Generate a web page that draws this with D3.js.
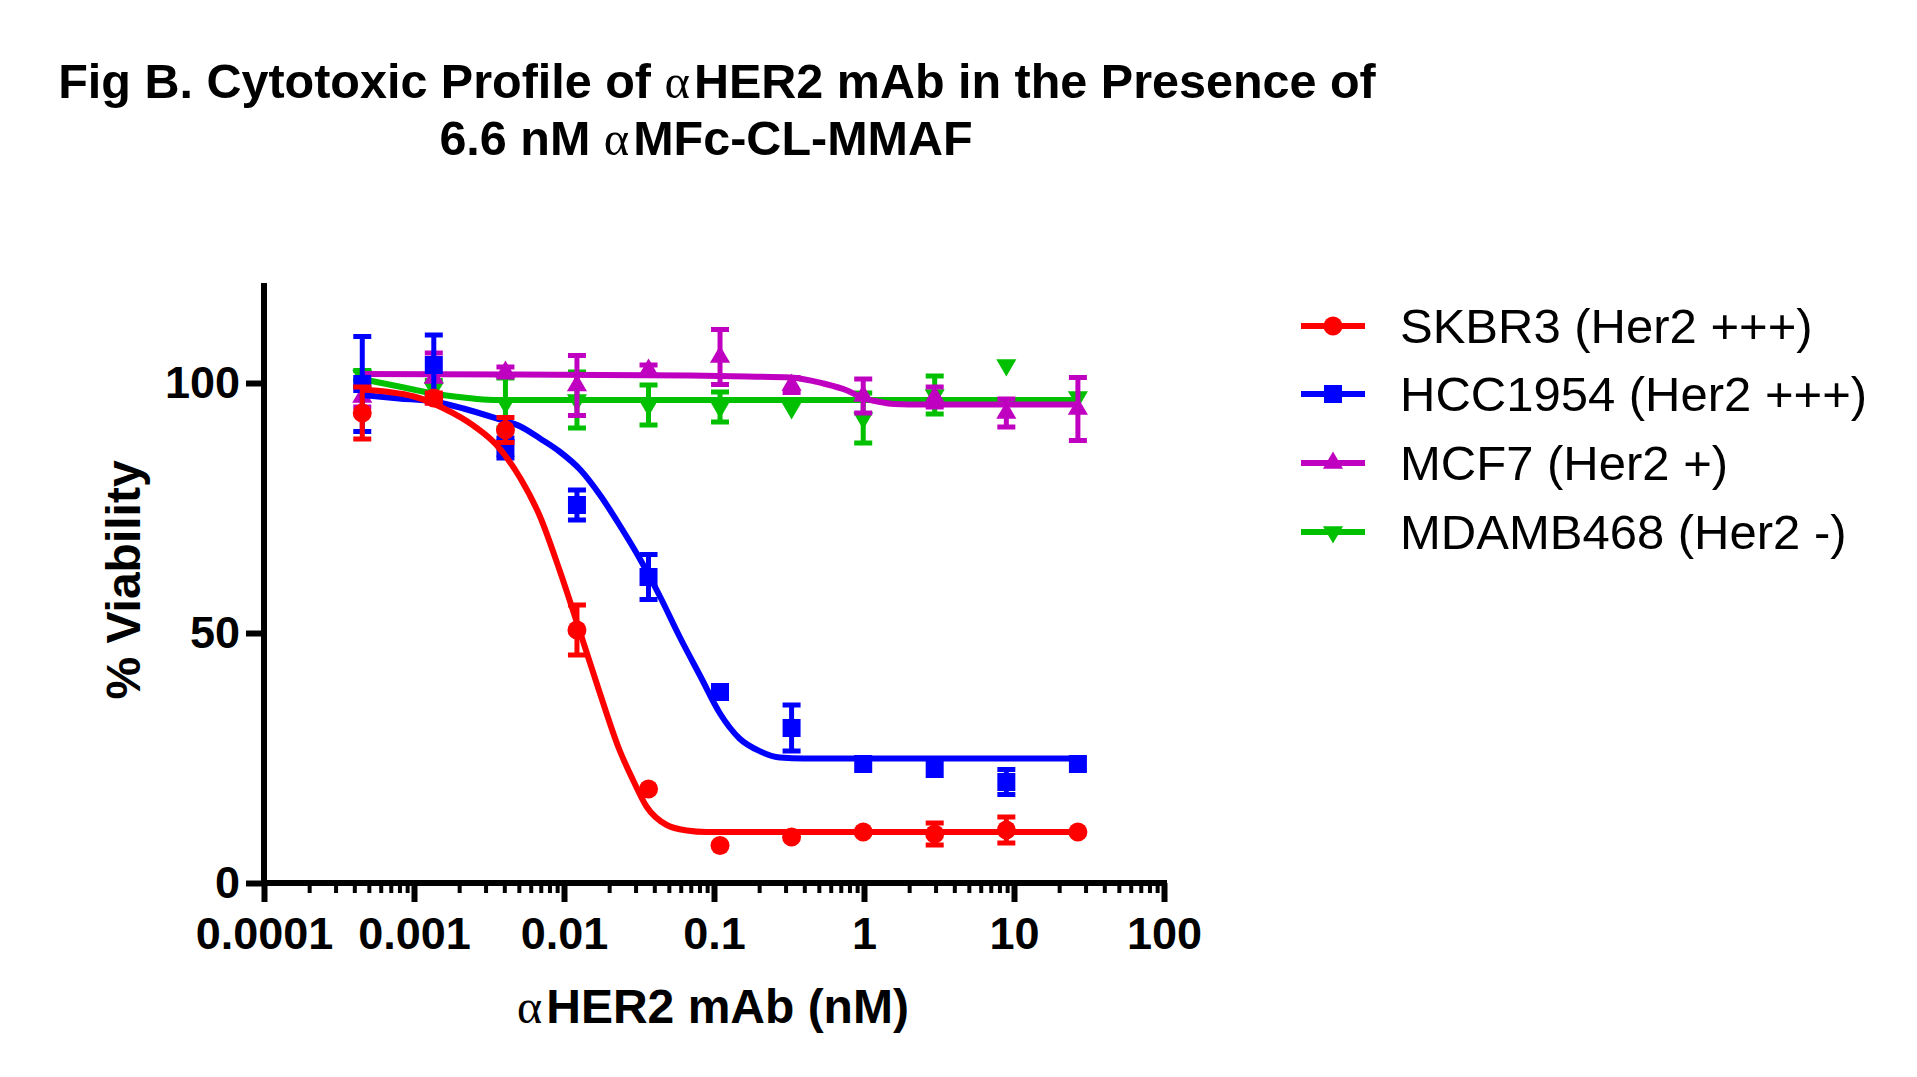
<!DOCTYPE html>
<html>
<head>
<meta charset="utf-8">
<script src="https://cdn.jsdelivr.net/npm/d3@7"></script>
<style>
  body { margin: 0; background: #fff; }
  svg text { font-family: "Liberation Sans", Arial, sans-serif; }
</style>
</head>
<body>
<div id="chart"></div>
<script>
// concentrations (nM), 3-fold dilutions
const conc = [0.000452, 0.001355, 0.00407, 0.0122, 0.0366, 0.1097, 0.329, 0.988, 2.96, 8.89, 26.67];

const seriesNames = ["SKBR3 (Her2 +++)", "HCC1954 (Her2 +++)", "MCF7 (Her2 +)", "MDAMB468 (Her2 -)"];

const skbr3Mean = [94.0, 97.0, 90.6, 50.6, 18.8, 7.5, 9.2, 10.2, 9.8, 10.6, 10.2];
const skbr3Err  = [5.2, 1.0, 2.5, 5.0, 0, 0, 0, 0, 2.2, 2.6, 0];
const hccMean   = [99.8, 103.6, 87.0, 75.6, 61.2, 38.2, 31.0, 23.8, 22.8, 20.2, 23.8];
const hccErr    = [9.5, 6.0, 2.0, 3.0, 4.5, 1.0, 4.6, 0, 0, 2.5, 0];
const mcf7Mean  = [97.2, 101.0, 102.2, 99.5, 102.6, 105.2, 99.6, 97.4, 97.2, 94.0, 94.8];
const mcf7Err   = [2.0, 5.0, 1.0, 6.0, 1.0, 5.5, 1.5, 3.4, 2.0, 2.8, 6.3];
const mdaMean   = [101.5, 99.0, 96.0, 96.6, 95.6, 95.2, 95.0, 93.0, 97.6, 103.6, 97.2];
const mdaErr    = [1.0, 1.5, 5.0, 5.6, 4.0, 3.0, 0, 5.0, 3.8, 0, 0];

// fitted curves (log10 nM, % viability)
const skbr3FitX = [-3.35, -3.0, -2.8, -2.6, -2.45, -2.29, -2.16, -2.03, -1.89, -1.76, -1.63, -1.54, -1.45, -1.315, -1.18, -1.05, 1.43];
const skbr3FitY = [98.7, 97.3, 94.9, 91.4, 87.6, 80.9, 73.3, 62.6, 49.9, 37.9, 26.6, 20.6, 15.3, 11.6, 10.5, 10.2, 10.2];
const hccFitX = [-3.35, -3.1, -2.87, -2.67, -2.45, -2.29, -2.16, -2.03, -1.89, -1.76, -1.63, -1.49, -1.36, -1.23, -1.09, -0.96, -0.83, -0.69, -0.56, -0.4, 1.43];
const hccFitY = [97.6, 96.9, 96.3, 94.9, 92.9, 91.3, 88.9, 86.3, 82.6, 77.6, 71.6, 64.6, 57.3, 49.3, 41.3, 33.9, 28.9, 26.3, 25.1, 24.9, 24.9];
const mcf7FitX = [-3.35, -2.3, -1.16, -0.78, -0.49, -0.27, -0.12, 0.0, 0.09, 0.2, 0.4, 1.43];
const mcf7FitY = [101.8, 101.7, 101.5, 101.3, 101.1, 99.9, 98.6, 96.9, 96.3, 95.8, 95.7, 95.7];
const mdaFitX = [-3.35, -3.1, -2.87, -2.67, -2.54, -2.4, 1.43];
const mdaFitY = [100.8, 99.3, 97.9, 97.1, 96.7, 96.6, 96.6];

const xTickValues = [0.0001, 0.001, 0.01, 0.1, 1, 10, 100];
const xTickLabels = ["0.0001", "0.001", "0.01", "0.1", "1", "10", "100"];
const yTickValues = [0, 50, 100];

const red = "#FF0000";
const blue = "#0000FF";
const magenta = "#C000C0";
const green = "#00C000";

const width = 1917;
const height = 1077;

const svg = d3.select("#chart").append("svg")
    .attr("width", width)
    .attr("height", height);

const x = d3.scaleLog().domain([0.0001, 100]).range([264, 1164]);
const y = d3.scaleLinear().domain([0, 120]).range([883, 283]);

// title
const title = svg.append("text")
    .attr("text-anchor", "middle")
    .attr("font-weight", "bold")
    .attr("font-size", 48.5);
title.append("tspan").attr("x", 717).attr("y", 98).text("Fig B. Cytotoxic Profile of ");
title.append("tspan").attr("font-weight", "normal").attr("font-family", "'Liberation Serif', serif").text("α");
title.append("tspan").attr("dx", 4).text("HER2 mAb in the Presence of");
title.append("tspan").attr("x", 706).attr("y", 155).text("6.6 nM ");
title.append("tspan").attr("font-weight", "normal").attr("font-family", "'Liberation Serif', serif").text("α");
title.append("tspan").attr("dx", 4).text("MFc-CL-MMAF");

// axes
const minorTicks = [];
for (let e = -4; e < 2; e++) {
    for (let k = 2; k <= 9; k++) minorTicks.push(k * Math.pow(10, e));
}

svg.append("g")
    .attr("transform", "translate(0,883)")
    .call(d3.axisBottom(x).tickValues(minorTicks).tickSize(10).tickSizeOuter(0).tickFormat(""))
    .call(g => g.select(".domain").remove())
    .call(g => g.selectAll("line").attr("stroke-width", 4));

const xAxis = svg.append("g")
    .attr("transform", "translate(0,883)")
    .call(d3.axisBottom(x)
        .tickValues(xTickValues)
        .tickSize(19)
        .tickSizeOuter(0)
        .tickPadding(15)
        .tickFormat((d, i) => xTickLabels[i]));
xAxis.select(".domain").attr("stroke-width", 6).attr("d", "M261,0H1167");
xAxis.selectAll("line").attr("stroke-width", 6);
xAxis.selectAll("text")
    .attr("font-size", 45)
    .attr("font-weight", "bold")
    .attr("fill", "#000");

const yAxis = svg.append("g")
    .attr("transform", "translate(264,0)")
    .call(d3.axisLeft(y)
        .tickValues(yTickValues)
        .tickSize(18)
        .tickSizeOuter(0)
        .tickPadding(6));
yAxis.select(".domain").attr("stroke-width", 6).attr("d", "M0,283V886");
yAxis.selectAll("line").attr("stroke-width", 6);
yAxis.selectAll("text")
    .attr("font-size", 45)
    .attr("font-weight", "bold")
    .attr("fill", "#000");

// axis titles
const xTitle = svg.append("text")
    .attr("x", 713)
    .attr("y", 1023)
    .attr("text-anchor", "middle")
    .attr("font-size", 48)
    .attr("font-weight", "bold");
xTitle.append("tspan").attr("font-weight", "normal").attr("font-family", "'Liberation Serif', serif").text("α");
xTitle.append("tspan").attr("dx", 4).text("HER2 mAb (nM)");

svg.append("text")
    .attr("transform", "translate(140,580) rotate(-90)")
    .attr("text-anchor", "middle")
    .attr("font-size", 48)
    .attr("font-weight", "bold")
    .text("% Viability");

// markers
function markerPath(shape) {
    if (shape === "circle") return d3.symbol().type(d3.symbolCircle).size(Math.PI * 9.5 * 9.5)();
    if (shape === "square") return d3.symbol().type(d3.symbolSquare).size(18 * 18)();
    return d3.symbol().type(d3.symbolTriangle).size(175)();
}

function markerTransform(shape, px, py) {
    if (shape === "down") return `translate(${px},${py}) rotate(180)`;
    return `translate(${px},${py})`;
}

const series = [
    { name: seriesNames[0], color: red, shape: "circle", mean: skbr3Mean, err: skbr3Err, fx: skbr3FitX, fy: skbr3FitY },
    { name: seriesNames[1], color: blue, shape: "square", mean: hccMean, err: hccErr, fx: hccFitX, fy: hccFitY },
    { name: seriesNames[2], color: magenta, shape: "up", mean: mcf7Mean, err: mcf7Err, fx: mcf7FitX, fy: mcf7FitY },
    { name: seriesNames[3], color: green, shape: "down", mean: mdaMean, err: mdaErr, fx: mdaFitX, fy: mdaFitY }
];

const line = d3.line()
    .x(d => x(Math.pow(10, d[0])))
    .y(d => y(d[1]))
    .curve(d3.curveMonotoneX);

// draw last series first so SKBR3 ends up on top
series.slice().reverse().forEach(s => {
    const g = svg.append("g");
    const fit = s.fx.map((v, i) => [v, s.fy[i]]);

    g.append("path")
        .attr("d", line(fit))
        .attr("fill", "none")
        .attr("stroke", s.color)
        .attr("stroke-width", 6);

    const pts = conc.map((c, i) => ({ c: c, m: s.mean[i], e: s.err[i] }));
    const withErr = pts.filter(d => d.e > 0);

    g.selectAll(".bar")
        .data(withErr)
        .enter()
        .append("line")
        .attr("x1", d => x(d.c))
        .attr("x2", d => x(d.c))
        .attr("y1", d => y(d.m - d.e))
        .attr("y2", d => y(d.m + d.e))
        .attr("stroke", s.color)
        .attr("stroke-width", 5);

    [-1, 1].forEach(sign => {
        g.selectAll(".cap" + sign)
            .data(withErr)
            .enter()
            .append("line")
            .attr("x1", d => x(d.c) - 9)
            .attr("x2", d => x(d.c) + 9)
            .attr("y1", d => y(d.m + sign * d.e))
            .attr("y2", d => y(d.m + sign * d.e))
            .attr("stroke", s.color)
            .attr("stroke-width", 5);
    });

    g.selectAll(".pt")
        .data(pts)
        .enter()
        .append("path")
        .attr("d", markerPath(s.shape))
        .attr("transform", d => markerTransform(s.shape, x(d.c), y(d.m)))
        .attr("fill", s.color);
});

// legend
const legendRows = [326, 394, 463, 532];
series.forEach((s, i) => {
    const ly = legendRows[i];
    svg.append("line")
        .attr("x1", 1301)
        .attr("x2", 1365)
        .attr("y1", ly)
        .attr("y2", ly)
        .attr("stroke", s.color)
        .attr("stroke-width", 6);
    svg.append("path")
        .attr("d", markerPath(s.shape))
        .attr("transform", markerTransform(s.shape, 1333, ly))
        .attr("fill", s.color);
    svg.append("text")
        .attr("x", 1400)
        .attr("y", ly + 17)
        .attr("font-size", 49)
        .text(s.name);
});
</script>
</body>
</html>
